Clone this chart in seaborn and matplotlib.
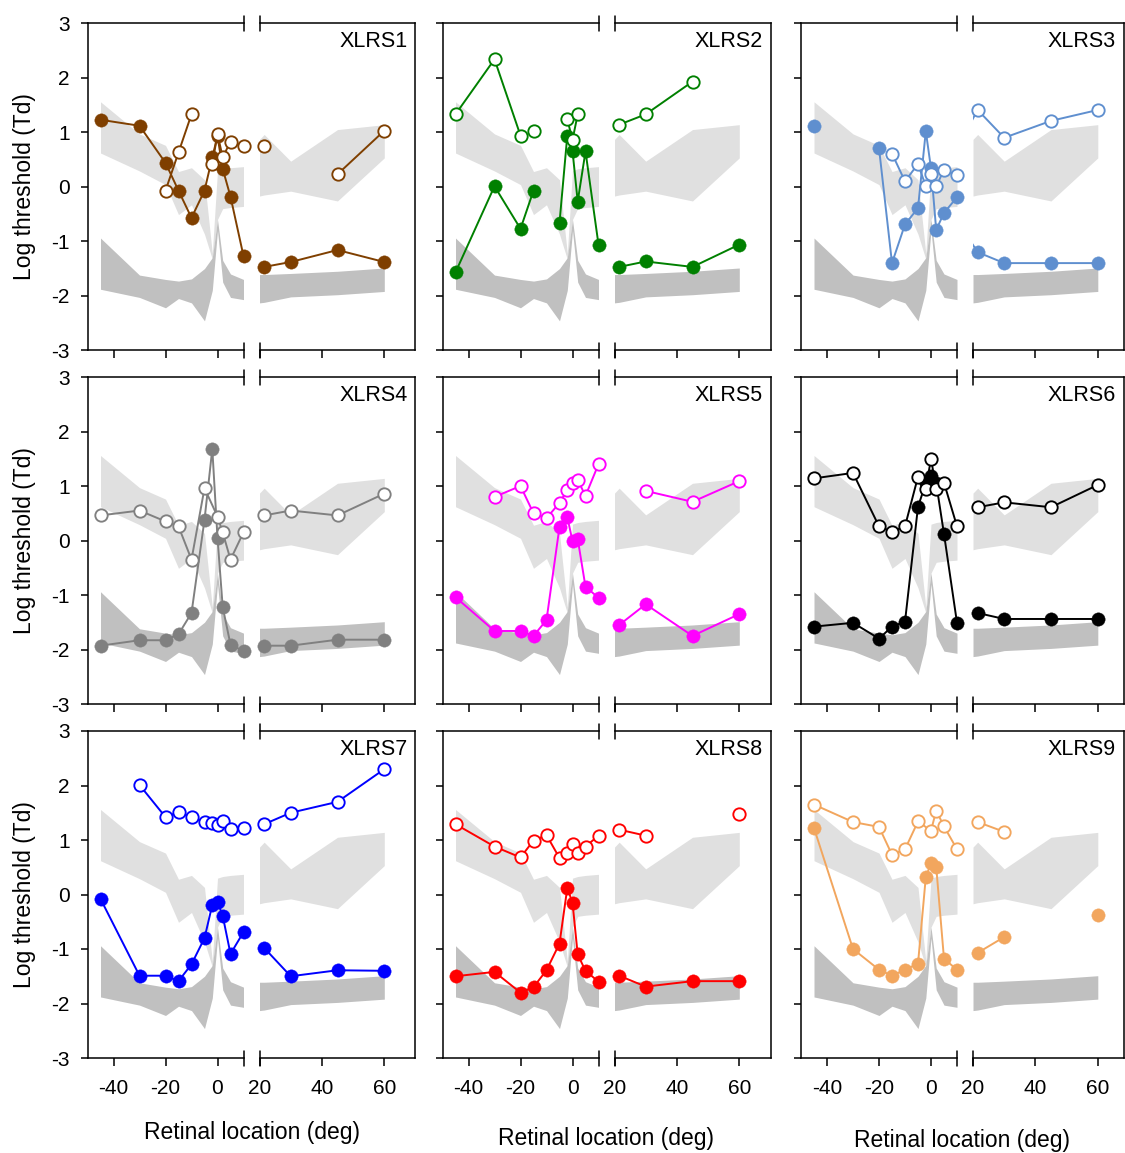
import numpy as np
import matplotlib
matplotlib.use("Agg")
import matplotlib.pyplot as plt
import seaborn as sns
import pandas as pd

nan = np.nan

# ---------------- data ----------------
patients = ["XLRS1", "XLRS2", "XLRS3", "XLRS4", "XLRS5", "XLRS6", "XLRS7", "XLRS8", "XLRS9"]
colors = ["#7f3f00", "#008000", "#5f8fcf", "#808080", "#ff00ff",
          "#000000", "#0000ff", "#ff0000", "#f2a65e"]

# normal ranges (grey bands)
band_x_left = [-45, -30, -20, -15, -10, -5, -2, 0, 2, 5, 10]
light_upper_left = [1.56, 0.97, 0.76, 0.28, 0.35, 0.13, -1.22, 0.30, 0.33, 0.35, 0.37]
light_lower_left = [0.62, 0.29, 0.04, -0.51, -0.33, -0.87, -1.33, -0.60, -0.40, -0.38, -0.36]
dark_upper_left = [-0.94, -1.62, -1.70, -1.73, -1.69, -1.50, -1.30, -0.60, -1.35, -1.60, -1.70]
dark_lower_left = [-1.88, -2.03, -2.22, -2.05, -2.13, -2.46, -1.90, -0.80, -1.75, -2.03, -2.07]

band_x_right = [20, 21.5, 30, 45, 60]
light_upper_right = [0.87, 0.96, 0.47, 1.05, 1.14]
light_lower_right = [-0.17, -0.15, -0.08, -0.26, 0.53]
dark_upper_right = [-1.61, -1.61, -1.59, -1.55, -1.49]
dark_lower_right = [-2.13, -2.12, -2.02, -1.98, -1.92]

# patient thresholds (filled = one condition, open = other); nan breaks the line
xlrs1_filled_x = [-45, -30, -20, -15, -10, -5, -2, 0, 2, 5, 10, 21.5, 30, 45, 60]
xlrs1_filled_y = [1.23, 1.12, 0.44, -0.07, -0.57, -0.07, 0.54, 0.93, 0.33, -0.18, -1.27, -1.47, -1.38, -1.16, -1.38]
xlrs1_open_x = [-20, -15, -10, nan, -2, 0, 2, 5, 10, 21.5, nan, 45, 60]
xlrs1_open_y = [-0.07, 0.63, 1.33, nan, 0.42, 0.97, 0.54, 0.83, 0.74, 0.74, nan, 0.23, 1.03]

xlrs2_filled_x = [-45, -30, -20, -15, nan, -5, -2, 0, 2, 5, 10, 21.5, 30, 45, 60]
xlrs2_filled_y = [-1.57, 0.01, -0.77, -0.07, nan, -0.66, 0.94, 0.66, -0.27, 0.65, -1.06, -1.47, -1.37, -1.47, -1.06]
xlrs2_open_x = [-45, -30, -20, nan, -15, nan, -2, 0, 2, nan, 21.5, 30, 45]
xlrs2_open_y = [1.33, 2.34, 0.94, nan, 1.03, nan, 1.24, 0.86, 1.33, nan, 1.14, 1.33, 1.93]

xlrs3_filled_x = [-45, nan, -20, -15, -10, -5, -2, 0, 2, 5, 10, 21.5, 30, 45, 60]
xlrs3_filled_y = [1.12, nan, 0.71, -1.40, -0.69, -0.39, 1.02, 0.34, -0.79, -0.48, -0.19, -1.20, -1.40, -1.40, -1.40]
xlrs3_open_x = [-15, -10, -5, -2, 0, 2, 5, 10, 21.5, 30, 45, 60]
xlrs3_open_y = [0.61, 0.10, 0.42, 0.01, 0.23, 0.01, 0.31, 0.21, 1.41, 0.90, 1.21, 1.41]

xlrs4_filled_x = [-45, -30, -20, -15, -10, -5, -2, 0, 2, 5, 10, 21.5, 30, 45, 60]
xlrs4_filled_y = [-1.93, -1.83, -1.83, -1.72, -1.33, 0.38, 1.68, 0.05, -1.22, -1.91, -2.03, -1.93, -1.93, -1.82, -1.82]
xlrs4_open_x = [-45, -30, -20, -15, -10, -5, 0, 2, 5, 10, 21.5, 30, 45, 60]
xlrs4_open_y = [0.46, 0.55, 0.35, 0.26, -0.35, 0.96, 0.44, 0.15, -0.35, 0.15, 0.46, 0.55, 0.46, 0.86]

xlrs5_filled_x = [-45, -30, -20, -15, -10, -5, -2, 0, 2, 5, 10, 21.5, 30, 45, 60]
xlrs5_filled_y = [-1.04, -1.66, -1.66, -1.75, -1.46, 0.25, 0.43, -0.01, 0.03, -0.85, -1.05, -1.55, -1.17, -1.75, -1.35]
xlrs5_open_x = [-30, -20, -15, -10, -5, -2, 0, 2, 5, 10, nan, 30, 45, 60]
xlrs5_open_y = [0.80, 1.00, 0.50, 0.41, 0.69, 0.93, 1.06, 1.11, 0.82, 1.40, nan, 0.91, 0.71, 1.09]

xlrs6_filled_x = [-45, -30, -20, -15, -10, -5, -2, 0, 2, 5, 10, 21.5, 30, 45, 60]
xlrs6_filled_y = [-1.58, -1.51, -1.80, -1.58, -1.49, 0.62, 1.05, 1.18, 1.05, 0.12, -1.51, -1.33, -1.44, -1.44, -1.44]
xlrs6_open_x = [-45, -30, -20, -15, -10, -5, -2, 0, 2, 5, 10, 21.5, 30, 45, 60]
xlrs6_open_y = [1.14, 1.24, 0.26, 0.16, 0.26, 1.17, 0.95, 1.50, 0.95, 1.06, 0.26, 0.61, 0.70, 0.61, 1.02]

xlrs7_filled_x = [-45, -30, -20, -15, -10, -5, -2, 0, 2, 5, 10, 21.5, 30, 45, 60]
xlrs7_filled_y = [-0.08, -1.49, -1.49, -1.59, -1.28, -0.80, -0.19, -0.13, -0.39, -1.09, -0.69, -0.98, -1.50, -1.39, -1.40]
xlrs7_open_x = [-30, -20, -15, -10, -5, -2, 0, 2, 5, 10, 21.5, 30, 45, 60]
xlrs7_open_y = [2.01, 1.42, 1.51, 1.42, 1.33, 1.31, 1.27, 1.34, 1.20, 1.22, 1.29, 1.50, 1.70, 2.30]

xlrs8_filled_x = [-45, -30, -20, -15, -10, -5, -2, 0, 2, 5, 10, 21.5, 30, 45, 60]
xlrs8_filled_y = [-1.50, -1.42, -1.80, -1.70, -1.39, -0.90, 0.12, -0.15, -1.10, -1.40, -1.60, -1.49, -1.69, -1.59, -1.59]
xlrs8_open_x = [-45, -30, -20, -15, -10, -5, -2, 0, 2, 5, 10, 21.5, 30, nan, 60]
xlrs8_open_y = [1.29, 0.88, 0.68, 0.99, 1.09, 0.67, 0.77, 0.93, 0.77, 0.88, 1.08, 1.19, 1.08, nan, 1.48]

xlrs9_filled_x = [-45, -30, -20, -15, -10, -5, -2, 0, 2, 5, 10, 21.5, 30, nan, 60]
xlrs9_filled_y = [1.22, -1.00, -1.38, -1.49, -1.38, -1.27, 0.32, 0.57, 0.51, -1.18, -1.38, -1.07, -0.78, nan, -0.38]
xlrs9_open_x = [-45, -30, -20, -15, -10, -5, 0, 2, 5, 10, 21.5, 30]
xlrs9_open_y = [1.65, 1.33, 1.24, 0.73, 0.83, 1.34, 1.17, 1.54, 1.25, 0.83, 1.33, 1.15]

series = [
    (xlrs1_filled_x, xlrs1_filled_y, xlrs1_open_x, xlrs1_open_y),
    (xlrs2_filled_x, xlrs2_filled_y, xlrs2_open_x, xlrs2_open_y),
    (xlrs3_filled_x, xlrs3_filled_y, xlrs3_open_x, xlrs3_open_y),
    (xlrs4_filled_x, xlrs4_filled_y, xlrs4_open_x, xlrs4_open_y),
    (xlrs5_filled_x, xlrs5_filled_y, xlrs5_open_x, xlrs5_open_y),
    (xlrs6_filled_x, xlrs6_filled_y, xlrs6_open_x, xlrs6_open_y),
    (xlrs7_filled_x, xlrs7_filled_y, xlrs7_open_x, xlrs7_open_y),
    (xlrs8_filled_x, xlrs8_filled_y, xlrs8_open_x, xlrs8_open_y),
    (xlrs9_filled_x, xlrs9_filled_y, xlrs9_open_x, xlrs9_open_y),
]

left_ticks = [-40, -20, 0]
right_ticks = [20, 40, 60]
y_ticks = [-3, -2, -1, 0, 1, 2, 3]

# ---------------- style ----------------
sns.set_theme(style="white")
plt.rcParams["font.family"] = ["Liberation Sans", "DejaVu Sans"]
plt.rcParams["axes.unicode_minus"] = False

W, H = 1125, 1153
fig = plt.figure(figsize=(W / 100, H / 100), dpi=100)

rows_top = [23.3, 377.0, 731.0]
ax_h = 327.0
cols_left = [87.5, 442.5, 801.0]
sub_w = 156.0
gap = 16.0
right_w = [156.0, 156.0, 150.5]
px_per_deg_right = 3.12
xlabel_y = [1133, 1138, 1140]

LIGHT = "#e0e0e0"
DARK = "#c0c0c0"
LW = 1.1
TICK_FS = 15


def rect(x0, y0, w, h):
    return [x0 / W, 1 - (y0 + h) / H, w / W, h / H]


def segments(xs, ys):
    segs, cur = [], []
    for x, y in zip(xs, ys):
        if np.isnan(x) or np.isnan(y):
            if cur:
                segs.append(cur)
            cur = []
        else:
            cur.append((x, y))
    if cur:
        segs.append(cur)
    return segs


def draw_series(ax, xs, ys, color, filled, xlim):
    for seg in segments(xs, ys):
        if len(seg) > 1:
            df = pd.DataFrame(seg, columns=["x", "y"])
            sns.lineplot(data=df, x="x", y="y", ax=ax, estimator=None, sort=False,
                         color=color, linewidth=1.4, zorder=3 if filled else 5,
                         legend=False)
    pts = [(x, y) for x, y in zip(xs, ys)
           if not (np.isnan(x) or np.isnan(y)) and xlim[0] - 0.6 <= x <= xlim[1] + 0.6]
    if pts:
        df = pd.DataFrame(pts, columns=["x", "y"])
        if filled:
            sns.scatterplot(data=df, x="x", y="y", ax=ax, s=9.6 ** 2, color=color,
                            edgecolor=color, linewidth=0.3, zorder=4, legend=False)
        else:
            sns.scatterplot(data=df, x="x", y="y", ax=ax, s=8.9 ** 2, color=color,
                            facecolor="white", edgecolor=color, linewidth=1.35,
                            zorder=6, legend=False)
        ax.collections[-1].set_clip_on(False)


d = 7.5 / ax_h

for i, name in enumerate(patients):
    r, c = divmod(i, 3)
    top = rows_top[r]
    L = cols_left[c]
    rw = right_w[c]
    axl = fig.add_axes(rect(L, top, sub_w, ax_h))
    axr = fig.add_axes(rect(L + sub_w + gap, top, rw, ax_h))
    xlim_l = (-50, 10)
    xlim_r = (20, 20 + rw / px_per_deg_right)

    axl.fill_between(band_x_left, light_lower_left, light_upper_left, color=LIGHT, lw=0, zorder=1)
    axl.fill_between(band_x_left, dark_lower_left, dark_upper_left, color=DARK, lw=0, zorder=1.5)
    axr.fill_between(band_x_right, light_lower_right, light_upper_right, color=LIGHT, lw=0, zorder=1)
    axr.fill_between(band_x_right, dark_lower_right, dark_upper_right, color=DARK, lw=0, zorder=1.5)

    fx, fy, ox, oy = series[i]
    col = colors[i]
    for ax, xl in ((axl, xlim_l), (axr, xlim_r)):
        draw_series(ax, fx, fy, col, True, xl)
        draw_series(ax, ox, oy, col, False, xl)

    for ax in (axl, axr):
        ax.set_ylim(-3, 3)
        ax.set_xlabel("")
        ax.set_ylabel("")
        for s in ax.spines.values():
            s.set_color("black")
            s.set_linewidth(LW)
    axl.spines["right"].set_visible(False)
    axr.spines["left"].set_visible(False)
    axl.set_xlim(*xlim_l)
    axr.set_xlim(*xlim_r)
    axl.set_xticks(left_ticks)
    axr.set_xticks(right_ticks)
    axl.set_yticks(y_ticks)
    axr.set_yticks([])

    for ax in (axl, axr):
        ax.tick_params(axis="x", direction="out", length=5.4, width=LW, color="black",
                       bottom=True, labelsize=TICK_FS, pad=10, labelcolor="black",
                       labelbottom=(r == 2))
    axl.tick_params(axis="y", direction="out", length=5.4, width=LW, color="black",
                    left=True, labelsize=TICK_FS, pad=7.5, labelcolor="black",
                    labelleft=(c == 0))
    axr.tick_params(axis="y", left=False, right=False, labelleft=False)

    # axis break marks
    for yy in (1, 0):
        axl.plot([1, 1], [yy - d, yy + d], transform=axl.transAxes, color="black",
                 lw=LW, clip_on=False, zorder=10)
        axr.plot([0, 0], [yy - d, yy + d], transform=axr.transAxes, color="black",
                 lw=LW, clip_on=False, zorder=10)

    axr.annotate(name, xy=(1, 1), xycoords="axes fraction", xytext=(-5.4, -5.5),
                 textcoords="offset points", ha="right", va="top", fontsize=15.5,
                 color="black")

    if c == 0:
        fig.text(25 / W, 1 - (top + ax_h / 2) / H, "Log threshold (Td)", rotation=90,
                 ha="center", va="center", fontsize=16.5, color="black")
    if r == 2:
        cx = (L + L + sub_w + gap + rw) / 2
        fig.text(cx / W, 1 - xlabel_y[c] / H, "Retinal location (deg)",
                 ha="center", va="center", fontsize=16.5, color="black")

fig.savefig("out.png", dpi=100)
